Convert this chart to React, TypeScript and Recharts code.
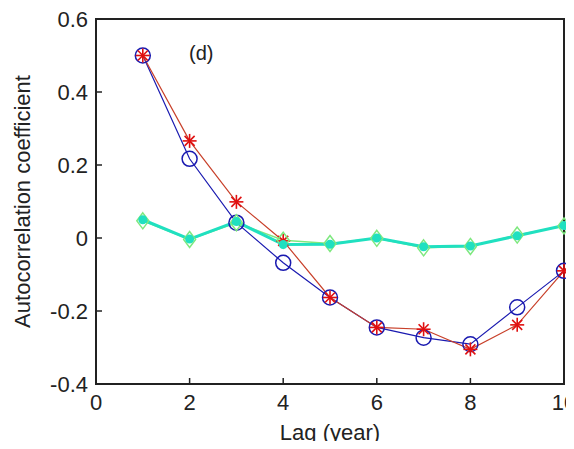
import { LineChart, Line, XAxis, YAxis, ReferenceArea } from 'recharts'

const lags = [1, 2, 3, 4, 5, 6, 7, 8, 9, 10]
const circleSeries = [0.5, 0.217, 0.042, -0.068, -0.163, -0.245, -0.273, -0.291, -0.19, -0.09]
const starSeries = [0.5, 0.266, 0.099, -0.008, -0.163, -0.245, -0.25, -0.305, -0.238, -0.09]
const diamondSeries = [0.047, -0.004, 0.042, -0.006, -0.015, -0.001, -0.027, -0.023, 0.008, 0.033]
const cyanSeries = [0.05, -0.003, 0.045, -0.018, -0.017, 0.0, -0.024, -0.022, 0.006, 0.034]
const xTicks = [0, 2, 4, 6, 8, 10]
const yTicks = [-0.4, -0.2, 0, 0.2, 0.4, 0.6]

const data = lags.map((lag, i) => ({
  lag,
  circle: circleSeries[i],
  star: starSeries[i],
  diamond: diamondSeries[i],
  cyan: cyanSeries[i],
}))

const axisColor = '#222'
const FONT = 22

// ticks point inward, so each custom tick draws its own short line
function BottomTick({ x, y, payload }: any) {
  return (
    <g>
      <line x1={x} x2={x} y1={y - 10} y2={y - 16} stroke={axisColor} strokeWidth={1.5} />
      <text x={x} y={y} dy="0.71em" textAnchor="middle" fontSize={FONT} fill="#222">{payload.value}</text>
    </g>
  )
}

function LeftTick({ x, y, payload }: any) {
  return (
    <g>
      <line x1={x + 8} x2={x + 14} y1={y} y2={y} stroke={axisColor} strokeWidth={1.5} />
      <text x={x} y={y} dy="0.355em" textAnchor="end" fontSize={FONT} fill="#222">{payload.value}</text>
    </g>
  )
}

function CircleDot(props: any) {
  const { cx, cy, index } = props
  return <circle key={`c${index}`} cx={cx} cy={cy} r={7.5} fill="none" stroke="#1a1ab0" strokeWidth={1.5} />
}

function StarDot(props: any) {
  const { cx, cy, index } = props
  const s = 7
  const d = 5
  return (
    <g key={`s${index}`} stroke="#e01010" strokeWidth={1.6}>
      <line x1={cx - s} y1={cy} x2={cx + s} y2={cy} />
      <line x1={cx} y1={cy - s} x2={cx} y2={cy + s} />
      <line x1={cx - d} y1={cy - d} x2={cx + d} y2={cy + d} />
      <line x1={cx - d} y1={cy + d} x2={cx + d} y2={cy - d} />
    </g>
  )
}

function DiamondDot(props: any) {
  const { cx, cy, index } = props
  const w = 6
  const h = 8
  return (
    <path
      key={`d${index}`}
      d={`M${cx},${cy - h} L${cx + w},${cy} L${cx},${cy + h} L${cx - w},${cy} Z`}
      fill="none"
      stroke="#7ee87e"
      strokeWidth={1.5}
    />
  )
}

export default function App() {
  return (
    <div style={{ position: 'relative', margin: -8, width: 574, height: 449, background: '#fff', fontFamily: '"Liberation Sans", Arial, sans-serif' }}>
      <LineChart width={574} height={449} data={data} margin={{ top: 19, right: 10, left: 0, bottom: 0 }}>
        <XAxis
          dataKey="lag"
          type="number"
          domain={[0, 10]}
          ticks={xTicks}
          height={65}
          tickLine={false}
          tickMargin={4}
          tick={<BottomTick />}
          stroke={axisColor}
          strokeWidth={1.5}
          label={{ value: 'Lag (year)', position: 'insideBottom', offset: 9, fontSize: FONT, fill: '#222' }}
        />
        <YAxis
          type="number"
          domain={[-0.4, 0.6]}
          ticks={yTicks}
          width={96}
          tickLine={false}
          tick={<LeftTick />}
          stroke={axisColor}
          strokeWidth={1.5}
          label={{
            value: 'Autocorrelation coefficient',
            angle: -90,
            position: 'insideLeft',
            offset: 22,
            fontSize: FONT,
            fill: '#222',
            style: { textAnchor: 'middle' },
          }}
        />
        {/* box around the whole plot area */}
        <ReferenceArea x1={0} x2={10} y1={-0.4} y2={0.6} fill="none" fillOpacity={0}
                       stroke={axisColor} strokeWidth={2} strokeOpacity={1} ifOverflow="visible" />
        <Line type="linear" dataKey="circle" stroke="#1a1ab0"
              strokeWidth={1.2} dot={CircleDot} activeDot={false} isAnimationActive={false} />
        <Line type="linear" dataKey="star" stroke="#c8402a"
              strokeWidth={1.2} dot={StarDot} activeDot={false} isAnimationActive={false} />
        <Line type="linear" dataKey="diamond" stroke="#7ee87e"
              strokeWidth={1.5} dot={DiamondDot} activeDot={false} isAnimationActive={false} />
        <Line type="linear" dataKey="cyan" stroke="#20e0c0"
              strokeWidth={3} dot={{ r: 3, fill: '#20e0c0', stroke: '#20e0c0' }} activeDot={false} isAnimationActive={false} />
      </LineChart>
      <div style={{ position: 'absolute', left: 189, top: 41, fontSize: 20, color: '#222', lineHeight: '24px' }}>(d)</div>
    </div>
  )
}
